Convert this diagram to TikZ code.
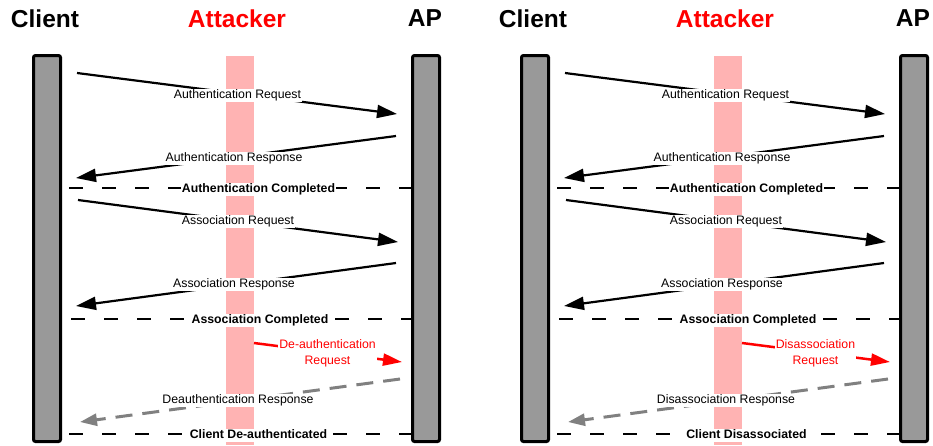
\documentclass[tikz,border=0pt]{standalone}
\usepackage{fontspec}
\setmainfont{Liberation Sans}
\usetikzlibrary{arrows.meta}
\definecolor{pinkbar}{RGB}{255,179,179}
\definecolor{barfill}{RGB}{153,153,153}
\definecolor{respgray}{RGB}{128,128,128}
\tikzset{
 lifebar/.style={draw=black, line width=3pt, fill=barfill, rounded corners=2pt, minimum width=27pt, minimum height=386pt, inner sep=0pt},
 attackbar/.style={fill=pinkbar, minimum width=28pt, minimum height=389pt, inner sep=0pt},
 title/.style={font=\fontsize{24.5}{28}\selectfont\bfseries, inner sep=0pt},
 msg/.style={line width=2.2pt, -{Triangle[length=20pt,width=13pt]}},
 lbl/.style={fill=white, inner sep=1pt, text height=9pt, text depth=2.6pt, font=\fontsize{12.3}{14}\selectfont},
 blbl/.style={lbl, font=\fontsize{12.3}{14}\selectfont\bfseries},
 phase/.style={line width=2.5pt, dash pattern=on 14pt off 19pt},
 attack/.style={red, line width=2.5pt, -{Triangle[length=19pt,width=12pt]}},
 reply/.style={respgray, line width=3pt, dash pattern=on 17pt off 10pt, -{Triangle[length=17pt,width=12pt]}},
}
\newcommand\drawpanel[5]{%
\begin{scope}[xshift=#2]
 \node[attackbar] (#1atk) at (240,250.5) {};
 \node[lifebar] (#1cl) at (47,248.5) {};
 \node[lifebar] (#1ap) at (426,248.5) {};
 \node[title] (#1tcl) at (45,18.5) {Client};
 \node[title, text=red] (#1tat) at (237,18.5) {Attacker};
 \node[title] (#1tap) at (425,18.5) {AP};
 \coordinate (#1m1s) at (77,73);   \coordinate (#1m1e) at (397,114);
 \coordinate (#1m2s) at (396,136); \coordinate (#1m2e) at (76,178);
 \coordinate (#1p1s) at (69,188);
 \coordinate (#1m3s) at (78,200);  \coordinate (#1m3e) at (398,242);
 \coordinate (#1m4s) at (396,263); \coordinate (#1m4e) at (76,306);
 \coordinate (#1p2s) at (71,319);
 \coordinate (#1m5s) at (254,343); \coordinate (#1m5e) at (402,362);
 \coordinate (#1m6s) at (400,379); \coordinate (#1m6e) at (80,422);
 \coordinate (#1p3s) at (69,434);
 \draw[msg] (#1m1s) -- (#1m1e);
 \draw[msg] (#1m2s) -- (#1m2e);
 \draw[phase] (#1p1s) -- (#1p1s -| #1ap.west);
 \draw[msg] (#1m3s) -- (#1m3e);
 \draw[msg] (#1m4s) -- (#1m4e);
 \draw[phase] (#1p2s) -- (#1p2s -| #1ap.west);
 \draw[attack] (#1m5s) -- (#1m5e);
 \draw[reply] (#1m6s) -- (#1m6e);
 \draw[phase] (#1p3s) -- (#1p3s -| #1ap.west);
 \node[lbl] (#1l1) at (237.5,95.5) {Authentication Request};
 \node[lbl] (#1l2) at (234,158.5) {Authentication Response};
 \node[blbl] (#1l3) at (258.5,189.5) {Authentication Completed};
 \node[lbl] (#1l4) at (238,221.5) {Association Request};
 \node[lbl] (#1l5) at (234,284.5) {Association Response};
 \node[blbl] (#1l6) at (260,320.5) {Association Completed};
 \node[fill=white, inner sep=1pt, text=red, align=center, font=\fontsize{12.3}{16}\selectfont] (#1l7) at (327.5,353.5) {#3};
 \node[lbl] (#1l8) at (238,400.5) {#4};
 \node[blbl] (#1l9) at (258.5,435.5) {#5};
\end{scope}}
\begin{document}
\begin{tikzpicture}[x=1pt,y=-1pt]
\useasboundingbox (0,0) rectangle (933,445);
\drawpanel{L}{0pt}{De-authentication\\Request}{Deauthentication Response}{Client De-authenticated}
\drawpanel{R}{488pt}{Disassociation\\Request}{Disassociation Response}{Client Disassociated}
\end{tikzpicture}
\end{document}
